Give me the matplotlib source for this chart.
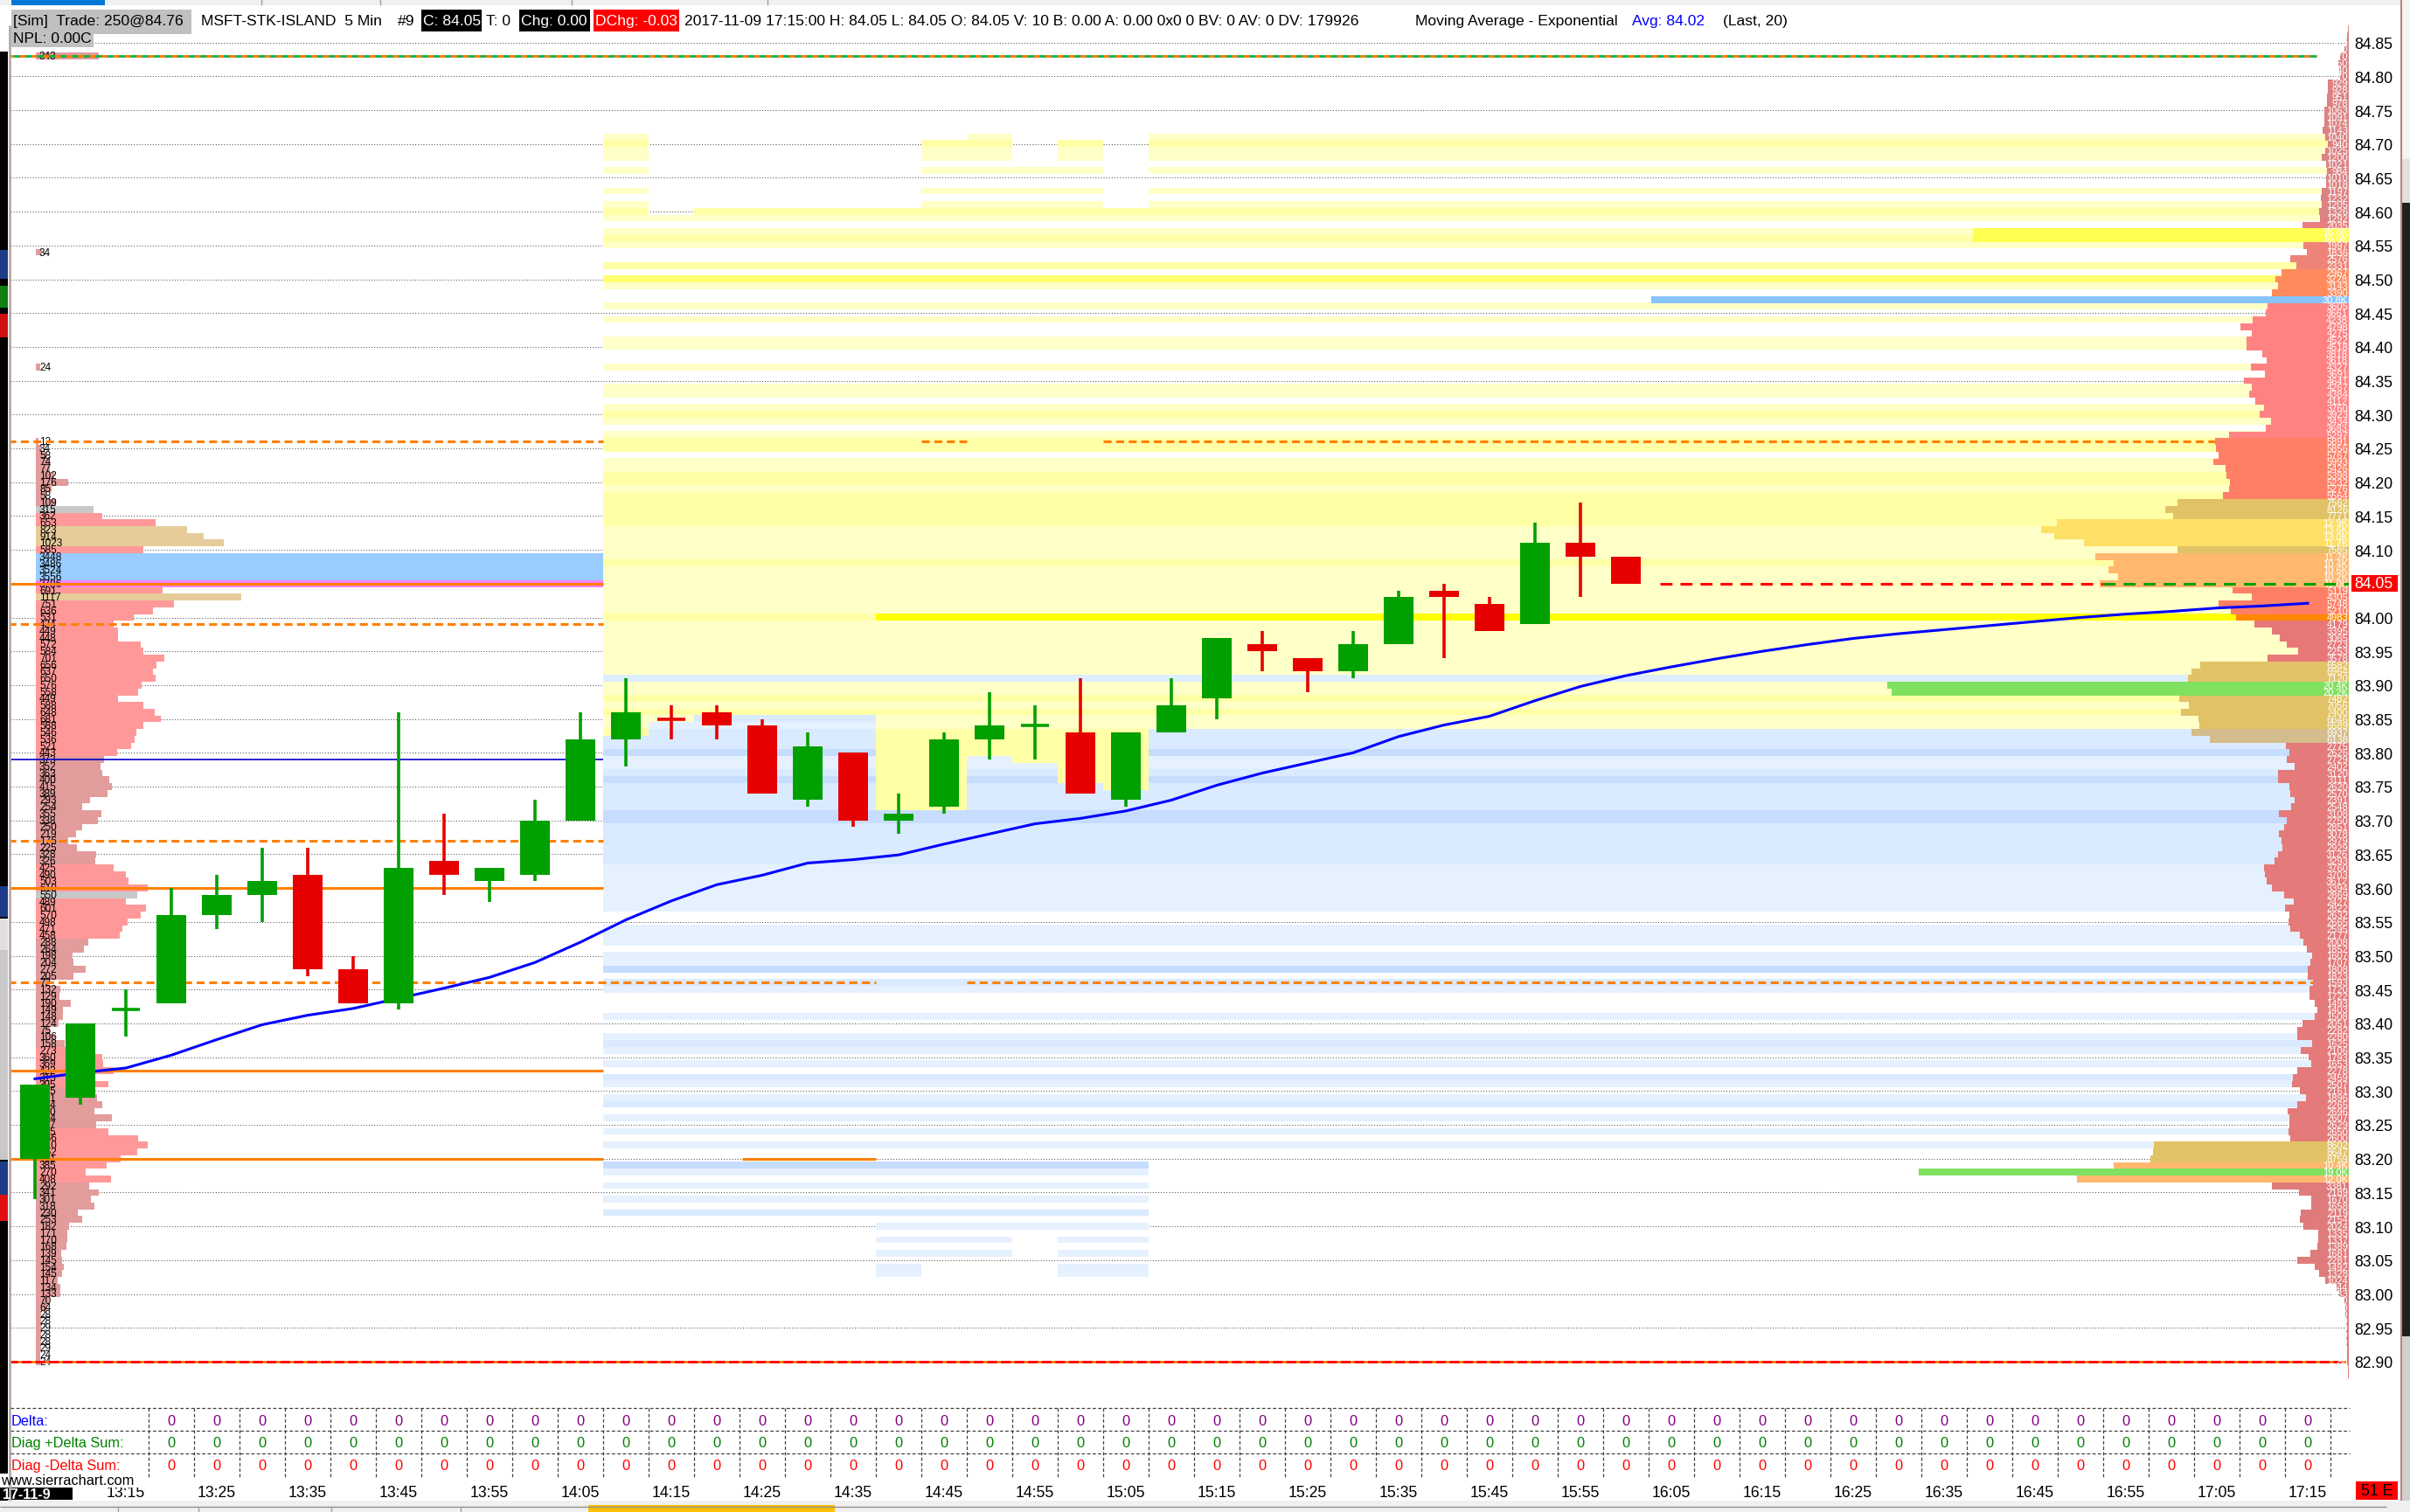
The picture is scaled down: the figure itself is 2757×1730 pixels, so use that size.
import numpy as np
import matplotlib
matplotlib.use("Agg")
import matplotlib.pyplot as plt
from matplotlib.patches import Rectangle
from matplotlib.colors import to_rgba
import matplotlib.transforms as mtransforms

plt.rcParams['font.family'] = ['Liberation Sans', 'DejaVu Sans']

W, H = 2757, 1731

# ---------------- data ----------------
# 5 min bars, 13:05 ... 16:00
opens  = [83.20, 83.29, 83.42, 83.43, 83.56, 83.59, 83.62, 83.48, 83.43, 83.64,
          83.61, 83.62, 83.70, 83.82, 83.85, 83.86, 83.84, 83.73, 83.80, 83.70,
          83.72, 83.82, 83.84, 83.83, 83.73, 83.83, 83.88, 83.96, 83.94, 83.92,
          83.96, 84.04, 84.02, 83.99, 84.11, 84.09]
highs  = [83.31, 83.40, 83.45, 83.60, 83.62, 83.66, 83.66, 83.50, 83.86, 83.71,
          83.63, 83.73, 83.86, 83.91, 83.87, 83.87, 83.85, 83.83, 83.80, 83.74,
          83.83, 83.89, 83.87, 83.91, 83.83, 83.91, 83.97, 83.98, 83.94, 83.98,
          84.04, 84.05, 84.03, 84.14, 84.17, 84.09]
lows   = [83.14, 83.28, 83.38, 83.43, 83.54, 83.55, 83.47, 83.43, 83.42, 83.59,
          83.58, 83.61, 83.70, 83.78, 83.82, 83.82, 83.74, 83.72, 83.69, 83.68,
          83.71, 83.79, 83.79, 83.74, 83.72, 83.83, 83.85, 83.92, 83.89, 83.91,
          83.96, 83.94, 83.98, 83.99, 84.03, 84.05]
closes = [83.31, 83.40, 83.42, 83.56, 83.59, 83.61, 83.48, 83.43, 83.63, 83.62,
          83.63, 83.70, 83.82, 83.86, 83.85, 83.84, 83.74, 83.81, 83.70, 83.71,
          83.82, 83.84, 83.84, 83.74, 83.83, 83.87, 83.97, 83.95, 83.92, 83.96,
          84.03, 84.03, 83.98, 84.11, 84.09, 84.05]

# exponential moving average (Last, 20), bars 13:05 ... 17:15
ema = [83.318, 83.327, 83.334, 83.353, 83.376, 83.398, 83.412, 83.422, 83.437, 83.452,
       83.468, 83.490, 83.520, 83.553, 83.581, 83.605, 83.619, 83.637, 83.642, 83.649,
       83.665, 83.680, 83.695, 83.703, 83.714, 83.730, 83.752, 83.770, 83.785, 83.800,
       83.824, 83.841, 83.854, 83.877, 83.898, 83.914, 83.927, 83.939, 83.950, 83.960,
       83.969, 83.976, 83.982, 83.988, 83.994, 84.000, 84.005, 84.009, 84.014, 84.017,
       84.021]

time_labels = ['13:15', '13:25', '13:35', '13:45', '13:55', '14:05', '14:15', '14:25',
               '14:35', '14:45', '14:55', '15:05', '15:15', '15:25', '15:35', '15:45',
               '15:55', '16:05', '16:15', '16:25', '16:35', '16:45', '16:55', '17:05', '17:15']
time_label_bars = list(range(2, 51, 2))

table_rows = ['Delta:', 'Diag +Delta Sum:', 'Diag -Delta Sum:']
table_bars = list(range(3, 51))
delta_vals = [0] * len(table_bars)
diag_pos_vals = [0] * len(table_bars)
diag_neg_vals = [0] * len(table_bars)

price_ticks = [round(82.90 + 0.05 * k, 2) for k in range(40)]

# left volume profile (previous session), 84.26 down to 82.90
lp_top = 84.26
lp_vols = [12, 34, 58, 74, 77, 102, 176, 85, 58, 109,
           315, 362, 653, 823, 914, 1023, 585, 3448, 3486, 3524,
           3556, 3786, 691, 1117, 751, 636, 531, 424, 449, 448,
           572, 584, 701, 656, 637, 650, 576, 558, 449, 588,
           648, 681, 588, 546, 536, 521, 443, 373, 352, 363,
           400, 415, 389, 293, 254, 355, 338, 250, 219, 176,
           225, 328, 326, 425, 490, 503, 610, 550, 489, 601,
           570, 498, 471, 458, 288, 264, 198, 204, 272, 205,
           72, 132, 129, 190, 149, 148, 124, 75, 106, 158,
           273, 360, 369, 422, 315, 395, 315, 331, 364, 320,
           414, 327, 395, 556, 610, 552, 461, 385, 270, 408,
           292, 341, 301, 318, 230, 253, 182, 171, 170, 168,
           139, 145, 154, 145, 117, 134, 133, 70, 64, 28,
           28, 29, 28, 28, 29, 24, 24]
lp_extra_prices = [84.83, 84.54, 84.37]
lp_extra_vols = [343, 34, 24]
lp_bands = [(8483, 8417, '#E29C9C'), (8416, 8416, '#C8C8C8'), (8415, 8414, '#FF9999'),
            (8413, 8411, '#E6CC9A'), (8410, 8410, '#FF9999'), (8409, 8406, '#99CCFF'),
            (8405, 8405, '#FF80FF'), (8404, 8404, '#FF9999'), (8403, 8403, '#E6CC9A'),
            (8402, 8380, '#FF9999'), (8379, 8364, '#E29C9C'), (8363, 8360, '#FF9999'),
            (8359, 8359, '#C8C8C8'), (8358, 8353, '#FF9999'), (8352, 8337, '#E29C9C'),
            (8336, 8331, '#FF9999'), (8330, 8325, '#E29C9C'), (8324, 8317, '#FF9999'),
            (8316, 8290, '#E29C9C')]

# right volume profile (whole day), 84.87 down to 82.88
rp_top = 84.87
rp_vols = [40, 70, 110, 180, 370, 450, 440, 370, 929, 928,
           951, 978, 1063, 1091, 1074, 1143, 1040, 940, 1025, 1200,
           1021, 984, 1010, 1018, 1197, 1232, 1205, 1326, 1292, 2035,
           16600, 16600, 1997, 1836, 2576, 2331, 2967, 3228, 3143, 3390,
           30800, 3605, 3661, 4238, 4798, 4275, 4522, 4518, 3818, 3618,
           4327, 3691, 4641, 4267, 4384, 4112, 3760, 3923, 3434, 3683,
           5297, 5891, 5856, 5767, 5993, 5426, 5398, 5232, 5276, 5564,
           7562, 8126, 7771, 12900, 13600, 13000, 11700, 7585, 11200, 10400,
           10600, 10200, 11000, 5119, 4305, 5748, 5210, 4983, 4179, 3395,
           3065, 2723, 2253, 3578, 6582, 6964, 7120, 20400, 20200, 7482,
           7056, 7400, 6646, 6589, 6937, 6138, 2775, 2626, 2729, 2402,
           3120, 3111, 2620, 2570, 2391, 2548, 3108, 2750, 2851, 3078,
           2979, 2929, 3126, 3293, 3760, 3703, 3612, 3394, 2869, 2427,
           2822, 2632, 2665, 2595, 2177, 2008, 1852, 1607, 1707, 1808,
           1823, 1593, 1720, 1722, 1493, 1403, 1508, 2051, 2282, 2280,
           1625, 2106, 1793, 1653, 2278, 2459, 2507, 2161, 1896, 2265,
           2696, 2607, 2629, 2650, 2600, 8602, 8647, 8759, 10400, 19000,
           12000, 3381, 2189, 1670, 1658, 2119, 2154, 2024, 1335, 1337,
           1389, 1681, 2281, 1492, 1328, 1024, 544, 433, 190, 160,
           140, 120, 120, 100, 100, 90, 80, 80, 40, 30]
rp_bands = [(8487, 8459, '#DC8282'), (8458, 8458, '#E88080'), (8457, 8456, '#FFFF50'),
            (8455, 8452, '#EE8478'), (8451, 8448, '#FF8A5C'), (8447, 8447, '#88C4FF'),
            (8446, 8427, '#FF8282'), (8426, 8418, '#FF7F66'), (8417, 8415, '#E2C266'),
            (8414, 8411, '#FFE066'), (8410, 8410, '#E2C266'), (8409, 8405, '#FFB86E'),
            (8404, 8401, '#FF7F66'), (8400, 8400, '#FF8800'), (8399, 8394, '#E87878'),
            (8393, 8391, '#E2C266'), (8390, 8389, '#80E060'), (8388, 8384, '#E2C266'),
            (8383, 8382, '#D4BC8C'), (8381, 8323, '#E47A7A'), (8322, 8320, '#E2C266'),
            (8319, 8319, '#FFB86E'), (8318, 8318, '#80E060'), (8317, 8317, '#FFB86E'),
            (8316, 8288, '#E07B7B')]

# market depth history, one column per bar 14:10 ... 17:15
depth_bars = list(range(13, 51))
ask_top = [84.71, 84.59, 84.60, 84.60, 84.60, 84.60, 84.60, 84.70, 84.71, 84.66,
           84.70, 84.60] + [84.71] * 26
ask_low = [83.83, 83.85, 83.86, 83.86, 83.86, 83.86, 83.72, 83.72, 83.80, 83.79,
           83.76, 83.75] + [83.84] * 26
bid_low = [83.12, 83.12, 83.12, 83.12, 83.12, 83.12, 83.03, 83.06, 83.06, 83.09,
           83.03, 83.03] + [83.22] * 26
ask_start = 84.72
ask_levels = ("0121101001" "0121012100" "2031001010" "0110010011" "0121012201"
              "1221222221" "1111211111" "1141111111" "1b11212112" "2222222222" "222")
bid_start = 83.90
bid_levels = ("2211221222" "3112322223" "3222222111" "1111001110" "1130210001"
              "0012101021" "0120101010" "0310101020" "101010110")
ask_colors = {'1': '#FFFFC8', '2': '#FFFFA6', '3': '#FFFF6E', '4': '#FFFF00', 'b': '#DDEEFF'}
bid_colors = {'1': '#E6F1FF', '2': '#DAEAFF', '3': '#C6DDFF'}
bright_from_bar = 19

# ---------------- layout ----------------
PL, PR, PT, PB = 12, 2687, 30, 1600      # price pane in pixels
BAR0, BARW = 40, 52                       # centre of first bar, bar spacing
Y8485, PX_TICK = 49.6, 7.74               # pixel row of 84.85, pixels per 0.01
rect = [PL / W, 1 - PB / H, (PR - PL) / W, (PB - PT) / H]
xlim = ((PL - BAR0) / BARW, (PR - BAR0) / BARW)
ylim = (84.85 - (PB - Y8485) / PX_TICK * 0.01, 84.85 + (Y8485 - PT) / PX_TICK * 0.01)

fig = plt.figure(figsize=(W / 100, H / 100), dpi=100)
fig.patch.set_facecolor('white')

LP_X0, LP_PX = 41, 0.21       # left profile: origin px, px per contract
RP_PX = 0.0259                # right profile px per contract

axL = fig.add_axes(rect, zorder=1)
axH = fig.add_axes(rect, zorder=2)
axR = fig.add_axes(rect, zorder=3)
ax = fig.add_axes(rect, zorder=4)
ov = fig.add_axes([0, 0, 1, 1], zorder=5)
for a in (axL, axH, axR, ov):
    a.axis('off')
ov.set_xlim(0, W)
ov.set_ylim(H, 0)
axL.set_xlim((PL - LP_X0) / LP_PX, (PR - LP_X0) / LP_PX)
axR.set_xlim((PR - PL) / RP_PX, 0)
axH.set_xlim(*xlim)
ax.set_xlim(*xlim)
for a in (axL, axH, axR, ax):
    a.set_ylim(*ylim)


def cents(p):
    return int(round(p * 100))


def band_color(p, bands):
    c = cents(p)
    for hi, lo, col in bands:
        if lo <= c <= hi:
            return col
    return '#E29C9C'


# grid (dotted, every 0.05)
for p in price_ticks:
    axL.axhline(p, color='#505050', lw=0.75, ls=(0, (1, 2)), zorder=0)

# left profile
lp_prices = [round(lp_top - 0.01 * i, 2) for i in range(len(lp_vols))] + lp_extra_prices
lp_all = lp_vols + lp_extra_vols
axL.barh(lp_prices, lp_all, height=0.01, left=0,
         color=[band_color(p, lp_bands) for p in lp_prices], linewidth=0, zorder=1)
for p, v in zip(lp_prices, lp_all):
    axL.text(4 / LP_PX, p, str(v), fontsize=8.5, ha='left', va='center', color='black', zorder=2)

# market depth heat map
n_rows = cents(ask_start) - cents(min(bid_low)) + 1
img = np.zeros((n_rows, len(depth_bars), 4))
for c, bar in enumerate(depth_bars):
    for r in range(n_rows):
        pc = cents(ask_start) - r
        col = None
        if cents(ask_low[c]) <= pc <= cents(ask_top[c]):
            ch = ask_levels[cents(ask_start) - pc]
            if ch == '4' and bar < bright_from_bar:
                ch = '2'
            col = ask_colors.get(ch)
        elif cents(bid_low[c]) <= pc < cents(ask_low[c]):
            ch = bid_levels[cents(bid_start) - pc]
            col = bid_colors.get(ch)
        if col:
            img[r, c] = to_rgba(col)
axH.imshow(img, extent=(depth_bars[0] - 0.5, depth_bars[-1] + 0.5,
                        min(bid_low) - 0.005, ask_start + 0.005),
           aspect='auto', interpolation='nearest', origin='upper', zorder=1)
axH.set_xlim(*xlim)
axH.set_ylim(*ylim)

# horizontal reference lines
ORANGE = '#FF8000'
solid_levels = [(84.05, [(-0.6, 12.5)]), (83.60, [(-0.6, 12.5)]),
                (83.33, [(-0.6, 12.5)]), (83.20, [(-0.6, 12.5), (15.55, 18.5)])]
dashed_levels = [(84.26, [(-0.6, 12.5), (19.5, 20.5), (23.5, 51)]),
                 (83.99, [(-0.6, 12.5)]), (83.67, [(-0.6, 12.5)]),
                 (83.46, [(-0.6, 18.5), (20.5, 51)])]
for p, spans in solid_levels:
    for x0, x1 in spans:
        axH.hlines(p, x0, x1, color=ORANGE, lw=2.2, zorder=3)
for p, spans in dashed_levels:
    for x0, x1 in spans:
        axH.hlines(p, x0, x1, color=ORANGE, lw=2.2, ls=(0, (3.0, 1.7)), zorder=3)
axH.hlines(83.79, -0.6, 12.5, color='#0000C8', lw=1.2, zorder=3)
axH.hlines(84.83, -0.6, 50.2, color='#00B050', lw=2.0, zorder=3)
axH.hlines(84.83, -0.6, 50.2, color=ORANGE, lw=2.0, ls=(0, (2.4, 2.4)), zorder=3)
axH.hlines(82.90, -0.6, 51, color=ORANGE, lw=2.0, zorder=3)
axH.hlines(82.90, -0.6, 51, color='#FF0000', lw=2.0, ls=(0, (4, 1.6)), zorder=3)

# right profile
rp_prices = [round(rp_top - 0.01 * i, 2) for i in range(len(rp_vols))]
axR.barh(rp_prices, rp_vols, height=0.01, left=0,
         color=[band_color(p, rp_bands) for p in rp_prices], linewidth=0)
for p, v in zip(rp_prices, rp_vols):
    lab = f'{v / 1000:.1f}K' if v >= 10000 else str(v)
    axR.text(1 / RP_PX, p, lab, fontsize=8, ha='right', va='center', color='white')

# EMA + candles
ax.plot(range(len(ema)), ema, color='#0000FF', lw=2.2, zorder=3)
xs = np.arange(len(opens))
cols = []
for i in range(len(opens)):
    if closes[i] != opens[i]:
        up = closes[i] > opens[i]
    else:
        up = i == 0 or closes[i] >= closes[i - 1]
    cols.append('#00A000' if up else '#E60000')
ax.vlines(xs, lows, highs, colors=cols, lw=2.6, zorder=4)
body = np.array(closes) - np.array(opens)
ax.bar(xs, body, bottom=opens, width=0.654, color=cols, linewidth=0, zorder=5)
for i in range(len(opens)):
    if body[i] == 0:
        ax.hlines(closes[i], i - 0.3, i + 0.3, color=cols[i], lw=2.6, zorder=5)

# last price line
ax.hlines(84.05, 35.75, 45.5, color='#FF0000', lw=2.2, ls=(0, (4.5, 3.0)), zorder=3)
ax.hlines(84.05, 45.5, 50.9, color='#00A000', lw=2.2, ls=(0, (4.5, 3.0)), zorder=6)

# price axis
ax.patch.set_visible(False)
for s in ax.spines.values():
    s.set_visible(False)
ax.set_xticks([])
ax.yaxis.tick_right()
ax.set_yticks(price_ticks)
ax.set_yticklabels([f'{p:.2f}' for p in price_ticks])
ax.tick_params(axis='y', length=0, pad=4.5, labelsize=12.7, labelcolor='black')

bx = mtransforms.blended_transform_factory(ov.transData, ax.transData)
ov.add_patch(Rectangle((2690, 84.05 - 0.0125), 53, 0.025, transform=bx,
                       facecolor='#FF0000', edgecolor='none'))
ov.text(2693, 84.05, '84.05', transform=bx, fontsize=12.7, color='white',
        ha='left', va='center')

# ---------------- chrome around the chart ----------------
tx = mtransforms.blended_transform_factory(ax.transData, ov.transData)

# top tab strip
ov.add_patch(Rectangle((0, 0), W, 7, facecolor='#F0F0F0', edgecolor='none'))
ov.add_patch(Rectangle((13, 0), 107, 7, facecolor='#0078D7', edgecolor='none'))
for xv in (299, 435, 654, 878):
    ov.vlines(xv, 0, 7, color='#A0A0A0', lw=1)

# header
HEAD_FS = 12.6
head_boxes = [(13, 12, 206, 28, '#C0C0C0'), (13, 33, 94, 22, '#C0C0C0'),
              (482, 12, 69, 25, '#000000'), (594, 12, 81, 25, '#000000'),
              (679, 12, 98, 25, '#FF0000')]
for x0, y0, w, h, fc in head_boxes:
    ov.add_patch(Rectangle((x0, y0), w, h, facecolor=fc, edgecolor='none'))
header = [('[Sim]  Trade: 250@84.76', 15, 'black'),
          ('MSFT-STK-ISLAND  5 Min', 230, 'black'),
          ('#9', 455, 'black'),
          ('C: 84.05', 484, 'white'),
          ('T: 0', 556, 'black'),
          ('Chg: 0.00', 596, 'white'),
          ('DChg: -0.03', 681, 'white'),
          ('2017-11-09 17:15:00 H: 84.05 L: 84.05 O: 84.05 V: 10 B: 0.00 A: 0.00 0x0 0 '
           'BV: 0 AV: 0 DV: 179926', 783, 'black'),
          ('Moving Average - Exponential', 1619, 'black'),
          ('Avg: 84.02', 1867, '#0000FF'),
          ('(Last, 20)', 1971, 'black')]
for txt, x0, c in header:
    ov.text(x0, 24.5, txt, fontsize=HEAD_FS, color=c, ha='left', va='center')
ov.text(15, 44.5, 'NPL: 0.00C', fontsize=HEAD_FS, color='black', ha='left', va='center')

# left & right window edges
ov.add_patch(Rectangle((0, 60), 9, 1658, facecolor='#000000', edgecolor='none'))
for y0, h, fc in [(287, 33, '#1F3C88'), (328, 25, '#108010'), (360, 27, '#D01010'),
                  (1015, 35, '#1F3C88'), (1052, 36, '#E0E0E0'), (1088, 240, '#C8C8C8'),
                  (1330, 38, '#1F3C88'), (1368, 30, '#E01010')]:
    ov.add_patch(Rectangle((0, y0), 9, h, facecolor=fc, edgecolor='none'))
ov.vlines(10.5, 30, 1718, color='#B8A8A8', lw=2)
ov.vlines(2746.5, 0, 1718, color='#C08080', lw=1.5)
for y0, h, fc in [(0, 183, '#F5F5F5'), (183, 50, '#E0E0E0'), (233, 1297, '#202020'),
                  (1530, 201, '#D0D0D0')]:
    ov.add_patch(Rectangle((2748, y0), 9, h, facecolor=fc, edgecolor='none'))

# study table under the price pane
row_y = [1627, 1652, 1678]
row_colors = ['#0000FF', '#008000', '#FF0000']
val_colors = ['#800080', '#008000', '#FF0000']
for yv in (1612, 1638, 1664):
    ov.hlines(yv, 12, 2688, color='#404040', lw=0.9, ls=(0, (3, 2)))
ax.vlines([b + 0.5 for b in range(2, 51)], 1612, 1691, transform=tx, color='#404040',
          lw=0.9, ls=(0, (3, 2)), clip_on=False)
for lab, yv, c, vc, vals in zip(table_rows, row_y, row_colors, val_colors,
                                [delta_vals, diag_pos_vals, diag_neg_vals]):
    ov.text(13, yv, lab, fontsize=11.8, color=c, ha='left', va='center')
    for b, v in zip(table_bars, vals):
        ax.text(b, yv, str(v), transform=tx, fontsize=11.8, color=vc,
                ha='center', va='center')

# time axis
for b, lab in zip(time_label_bars, time_labels):
    ax.text(b, 1709, lab, transform=tx, fontsize=12.7, color='black', ha='center', va='center')

ov.add_patch(Rectangle((0, 1702), 83, 15, facecolor='#000000', edgecolor='none'))
ov.text(3, 1711, '17-11-9', fontsize=11.5, color='white', fontweight='bold', ha='left', va='center')
ov.add_patch(Rectangle((0, 1687), 165, 16, facecolor='white', edgecolor='none'))
ov.text(1, 1695, 'www.sierrachart.com', fontsize=11.8, color='black', ha='left', va='center')

ov.add_patch(Rectangle((2695, 1696), 48, 21, facecolor='#FF0000', edgecolor='none'))
ov.text(2719, 1707, '51 E', fontsize=12.7, color='black', ha='center', va='center')

# bottom tab strip
ov.add_patch(Rectangle((0, 1718), W, 13, facecolor='#F0F0F0', edgecolor='none'))
ov.hlines(1725, 0, 2730, color='#909090', lw=1)
for xv in (135, 227, 379, 527):
    ov.vlines(xv, 1725, H, color='#A0A0A0', lw=1)
ov.add_patch(Rectangle((673, 1723), 282, 8, facecolor='#FFC000', edgecolor='none'))

fig.savefig('out.png', dpi=100, facecolor='white')
